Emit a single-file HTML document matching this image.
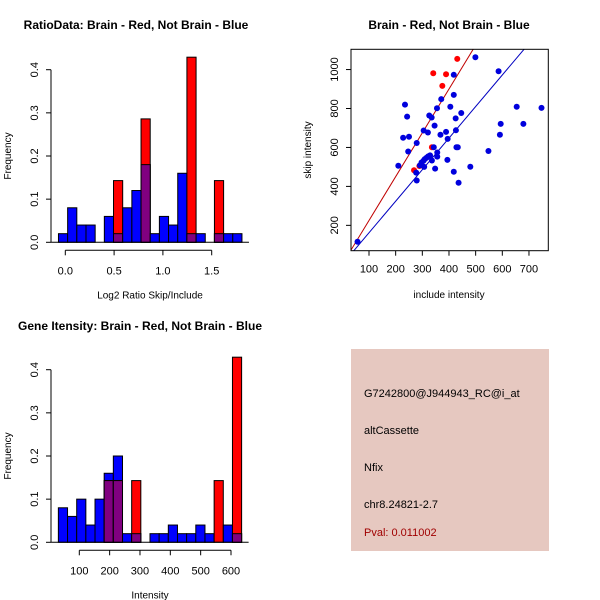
<!DOCTYPE html>
<html><head><meta charset="utf-8">
<style>
body{margin:0;background:#fff}
svg{display:block;font-family:"Liberation Sans",Arial,sans-serif}
</style></head>
<body>
<svg id="chart" width="600" height="600" viewBox="0 0 600 600">
<rect width="600" height="600" fill="#fff"/>
<text x="136" y="29" text-anchor="middle" font-size="12" font-weight="bold">RatioData: Brain - Red, Not Brain - Blue</text>
<text x="449" y="29" text-anchor="middle" font-size="12" font-weight="bold">Brain - Red, Not Brain - Blue</text>
<text x="140" y="330" text-anchor="middle" font-size="12" font-weight="bold">Gene Itensity: Brain - Red, Not Brain - Blue</text>
<g id="g1"></g>
<g id="g2"></g>
<g id="g3"></g>
<g>
<rect x="351" y="349" width="198" height="202" fill="#e6c8c0"/>
<text x="364" y="397" font-size="11">G7242800@J944943_RC@i_at</text>
<text x="364" y="434" font-size="11">altCassette</text>
<text x="364" y="471" font-size="11">Nfix</text>
<text x="364" y="508" font-size="11">chr8.24821-2.7</text>
<text x="364" y="536" font-size="11" fill="#a00000">Pval: 0.011002</text>
</g>
</svg>
<script>
// ratio histogram data
const ratioBinStart = -0.07, ratioBinWidth = 0.094;
const ratioBlue = [0.02,0.08,0.04,0.04,0,0.06,0.02,0.08,0.12,0.18,0.02,0.06,0.04,0.16,0.02,0.02,0,0.02,0.02,0.02];
const ratioRed  = [0,0,0,0,0,0,0.143,0,0,0.286,0,0,0,0,0.429,0,0,0.143,0,0];
const ratioXTicks = [0,0.5,1,1.5];
const ratioXLabels = ["0.0","0.5","1.0","1.5"];
// intensity histogram data
const intBinStart = 31, intBinWidth = 30.2;
const intBlue = [0.08,0.06,0.10,0.04,0.10,0.16,0.20,0.02,0.02,0,0.02,0.02,0.04,0.02,0.02,0.04,0.02,0,0.04,0.02];
const intRed  = [0,0,0,0,0,0.143,0.143,0,0.143,0,0,0,0,0,0,0,0,0.143,0,0.429];
const intXTicks = [100,200,300,400,500,600];
const freqTicks = [0,0.1,0.2,0.3,0.4];
const freqLabels = ["0.0","0.1","0.2","0.3","0.4"];
// scatter data
const blueX = [57,210,235,228,250,243,247,279,277,279,305,321,326,335,291,297,304,309,316,322,329,336,307,346,355,343,348,356,356,368,371,389,395,394,405,418,418,418,425,426,428,433,436,446,480,499,548,586,591,594,654,679,747];
const blueY = [116,506,820,650,655,758,579,623,471,430,687,677,764,754,508,523,531,540,547,554,559,533,500,712,801,601,491,574,553,665,848,680,644,536,809,870,973,475,749,688,601,601,419,777,501,1063,582,991,665,721,809,721,803];
const redX = [341,389,375,431,289,269,336];
const redY = [981,976,916,1055,505,483,601];
const fitSlopes = [2.25,1.62];
const fitColors = ["#c00000","#0000c0"];
const scXTicks = [100,200,300,400,500,600,700];
const scYTicks = [200,400,600,800,1000];

const NS="http://www.w3.org/2000/svg";
function mk(parent,tag,attrs){const e=document.createElementNS(NS,tag);for(const k in attrs)e.setAttribute(k,attrs[k]);parent.appendChild(e);return e;}

function histogram(g,y0,y04,xA,xB,dA,dB,start,width,blue,red,xt,xl,xTitle){
  const sx=v=>xA+(v-dA)*(xB-xA)/(dB-dA);
  const sy=v=>y0-v*(y0-y04)/0.4;
  for(let i=0;i<blue.length;i++){
    const x1=sx(start+i*width), x2=sx(start+(i+1)*width);
    const b=blue[i], r=red[i];
    if(b>0){const e=mk(g,'rect',{x:x1,y:sy(b),width:x2-x1,height:sy(0)-sy(b),fill:'#0000ff',stroke:'#000','stroke-width':1});
      
      }
    if(r>0){const e=mk(g,'rect',{x:x1,y:sy(r),width:x2-x1,height:sy(0)-sy(r),fill:'#ff0000',stroke:'#000','stroke-width':1});
      
      }
    const m=Math.min(b,r);
    if(m>0){const e=mk(g,'rect',{x:x1,y:sy(m),width:x2-x1,height:sy(0)-sy(m),fill:'#800080',stroke:'#000','stroke-width':1});
      
      }
  }
  const ax=51;
  mk(g,'line',{x1:ax,x2:ax,y1:sy(0),y2:sy(0.4),stroke:'#000'});
  freqTicks.forEach((t,i)=>{
    mk(g,'line',{x1:ax-5,x2:ax,y1:sy(t),y2:sy(t),stroke:'#000'});
    const tx=mk(g,'text',{x:0,y:0,'font-size':11,'text-anchor':'middle',transform:`translate(${ax-13},${sy(t)}) rotate(-90)`});
    tx.textContent=freqLabels[i];
    
    
  });
  const yt=mk(g,'text',{'font-size':10,'text-anchor':'middle',transform:`translate(11,${(sy(0)+sy(0.4))/2}) rotate(-90)`});
  yt.textContent='Frequency';
  
  
  mk(g,'line',{x1:ax,x2:sx(start+blue.length*width)+7,y1:sy(0),y2:sy(0),stroke:'#000'});
  const axy=y0+8;
  mk(g,'line',{x1:sx(xt[0]),x2:sx(xt[xt.length-1]),y1:axy,y2:axy,stroke:'#000'});
  xt.forEach((t,i)=>{
    mk(g,'line',{x1:sx(t),x2:sx(t),y1:axy,y2:axy+5,stroke:'#000'});
    const tx=mk(g,'text',{x:sx(t),y:axy+24,'font-size':11,'text-anchor':'middle'});
    tx.textContent=xl[i];
    
    
  });
  const xtt=mk(g,'text',{x:150,y:y0+56,'font-size':10,'text-anchor':'middle'});
  xtt.textContent=xTitle;
  
  
}
histogram(document.getElementById('g1'),242.3,69.7,65.3,211.7,0,1.5,ratioBinStart,ratioBinWidth,ratioBlue,ratioRed,ratioXTicks,ratioXLabels,'Log2 Ratio Skip/Include');
histogram(document.getElementById('g3'),542.3,369.7,79.3,231,100,600,intBinStart,intBinWidth,intBlue,intRed,intXTicks,intXTicks.map(String),'Intensity');

(function(){
  const g=document.getElementById('g2');
  const L=351,R=548.3,T=49.3,B=250.7;
  const xmin=32.5,xmax=772.5,ymin=69.8,ymax=1104;
  const sx=v=>L+(v-xmin)*(R-L)/(xmax-xmin);
  const sy=v=>B-(v-ymin)*(B-T)/(ymax-ymin);
  const cp=mk(g,'clipPath',{id:'clip'});mk(cp,'rect',{x:L,y:T,width:R-L,height:B-T});
  fitSlopes.forEach((s,i)=>{
    const e=mk(g,'line',{x1:sx(xmin),y1:sy(s*xmin),x2:sx(xmax),y2:sy(s*xmax),stroke:fitColors[i],'clip-path':'url(#clip)'});
    
    
  });
  redX.forEach((x,i)=>{const e=mk(g,'circle',{cx:sx(x),cy:sy(redY[i]),r:3,fill:'#ff0000'});
    
    });
  blueX.forEach((x,i)=>{const e=mk(g,'circle',{cx:sx(x),cy:sy(blueY[i]),r:3,fill:'#0000dd'});
    
    });
  mk(g,'rect',{x:L,y:T,width:R-L,height:B-T,fill:'none',stroke:'#000'});
  scXTicks.forEach(t=>{
    mk(g,'line',{x1:sx(t),x2:sx(t),y1:B,y2:B+5,stroke:'#000'});
    const tx=mk(g,'text',{x:sx(t),y:B+22,'font-size':11,'text-anchor':'middle'});tx.textContent=t;
    
    
  });
  scYTicks.forEach(t=>{
    mk(g,'line',{x1:L-5,x2:L,y1:sy(t),y2:sy(t),stroke:'#000'});
    const tx=mk(g,'text',{'font-size':11,'text-anchor':'middle',transform:`translate(${L-13},${sy(t)}) rotate(-90)`});tx.textContent=t;
    
    
  });
  const xt=mk(g,'text',{x:449,y:298,'font-size':10,'text-anchor':'middle'});xt.textContent='include intensity';
  
  
  const yt=mk(g,'text',{'font-size':10,'text-anchor':'middle',transform:`translate(311,${(T+B)/2}) rotate(-90)`});yt.textContent='skip intensity';
  
  
})();
</script>
</body></html>
